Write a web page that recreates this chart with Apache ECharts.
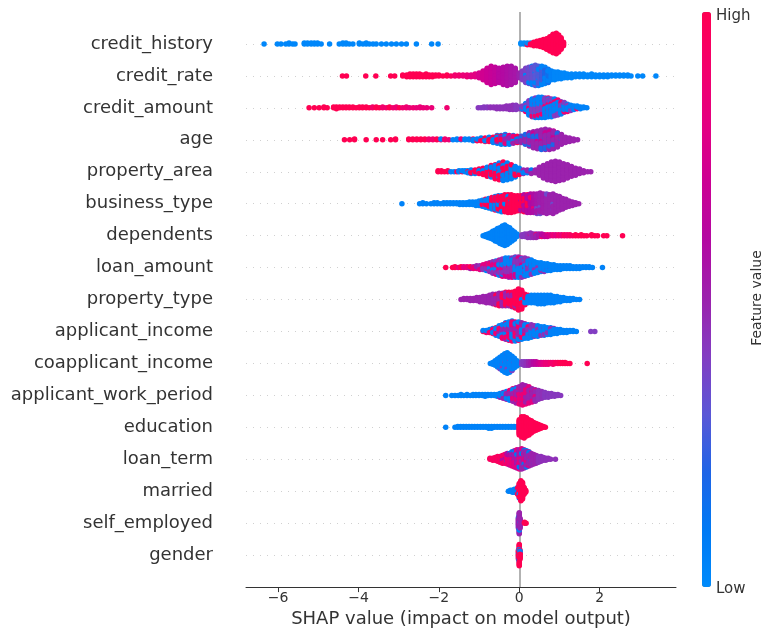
<!DOCTYPE html>
<html>
<head>
<meta charset="utf-8">
<script src="https://cdn.jsdelivr.net/npm/echarts@6/dist/echarts.min.js"></script>
<style>
  html, body { margin: 0; padding: 0; background: #fff; }
  #main { width: 776px; height: 633px; }
</style>
</head>
<body>
<div id="main"></div>
<script>
// features, top to bottom
var features = ['credit_history', 'credit_rate', 'credit_amount', 'age', 'property_area',
  'business_type', 'dependents', 'loan_amount', 'property_type', 'applicant_income',
  'coapplicant_income', 'applicant_work_period', 'education', 'loan_term', 'married',
  'self_employed', 'gender'];
var xTicks = [-6, -4, -2, 0, 2];

// each entry: [shap value, number of points at that value, feature value 0..1 (-1 = missing)]
var credit_history = [[-6.35,1,0.02],[-6.02,1,0.02],[-5.93,1,0.02],[-5.81,1,0.02],[-5.73,2,0.02],[-5.64,1,0.02],[-5.58,1,0.02],
  [-5.35,2,0.02],[-5.27,2,0.02],[-5.18,2,0.02],[-5.1,2,0.02],[-5.02,2,0.02],[-4.93,1,0.02],[-4.72,1,0.02],[-4.48,1,0.02],
  [-4.39,2,0.02],[-4.31,2,0.02],[-4.23,1,0.02],[-4.14,1,0.02],[-3.98,2,0.02],[-3.89,1,0.02],[-3.81,2,0.02],[-3.73,1,0.02],
  [-3.64,1,0.02],[-3.56,1,0.02],[-3.43,1,0.02],[-3.31,1,0.02],[-3.18,1,0.02],[-3.06,1,0.02],[-2.93,1,0.02],[-2.81,1,0.02],
  [-2.56,1,0.02],[-2.18,1,0.02],[-2.02,1,0.02],
  [0.04,2,-1],[0.12,2,-1],[0.2,2,-1],[0.2,1,1],[0.28,1,-1],[0.28,2,1],[0.36,5,1],[0.44,6,1],[0.52,8,1],[0.6,10,1],
  [0.68,13,1],[0.76,17,1],[0.84,22,1],[0.92,24,1],[0.98,20,1],[1.04,14,1],[1.1,5,1]];

var credit_rate = [[-4.4,1,1],[-4.3,1,1],[-3.82,1,1],[-3.57,1,1],[-3.2,1,1],[-3.1,1,1],
  [-2.9,2,1],[-2.8,3,1],[-2.72,4,1],[-2.64,4,1],[-2.56,4,1],[-2.48,4,1],[-2.4,3,1],[-2.32,4,1],[-2.24,3,1],[-2.16,3,1],
  [-2.08,2,1],[-2.0,2,1],[-1.9,1,1],[-1.8,2,1],[-1.7,1,0.95],[-1.6,2,0.9],[-1.5,2,0.9],[-1.4,2,0.85],[-1.3,3,0.85],
  [-1.2,3,0.8],[-1.1,4,0.8],[-1.0,6,0.75],[-0.9,10,0.72],[-0.8,16,0.7],[-0.7,20,0.68],[-0.6,18,0.66],[-0.5,16,0.62],
  [-0.4,19,0.6],[-0.3,21,0.58],[-0.2,20,0.56],[-0.1,16,0.55],[0.0,6,0.5],
  [0.08,10,0.4],[0.16,14,0.38],[0.16,2,0.05],[0.24,15,0.35],[0.24,3,0.05],[0.32,16,0.33],[0.32,4,0.05],[0.4,17,0.3],[0.4,5,0.05],
  [0.48,15,0.28],[0.48,6,0.05],[0.56,13,0.25],[0.56,7,0.05],[0.64,10,0.2],[0.64,8,0.05],[0.72,6,0.15],[0.72,9,0.05],
  [0.8,10,0.05],[0.88,9,0.03],[0.96,8,0.03],[1.04,7,0.03],[1.12,6,0.02],[1.2,5,0.02],[1.3,5,0.02],[1.4,4,0.02],[1.5,4,0.02],
  [1.6,4,0.02],[1.7,3,0.02],[1.8,4,0.02],[1.9,3,0.02],[2.0,3,0.02],[2.1,3,0.02],[2.2,3,0.02],[2.3,2,0.02],[2.4,2,0.02],
  [2.5,2,0.02],[2.6,2,0.02],[2.7,2,0.02],[2.78,1,0.02],[2.95,1,0.02],[3.07,1,0.02],[3.4,1,0.02]];

var credit_amount = [[-5.23,1,1],[-5.1,1,1],[-4.98,1,1],[-4.86,2,1],[-4.78,1,1],[-4.62,2,1],[-4.55,3,1],[-4.47,2,1],
  [-4.39,2,1],[-4.31,2,1],[-4.23,2,1],[-4.14,2,1],[-4.06,1,1],[-3.98,2,1],[-3.9,2,1],[-3.81,2,1],[-3.73,1,1],[-3.65,2,0.92],
  [-3.56,2,1],[-3.48,1,1],[-3.4,2,0.9],[-3.31,1,0.9],[-3.23,2,1],[-3.14,1,0.9],[-3.06,2,0.88],[-2.98,1,1],[-2.9,1,0.88],
  [-2.81,2,0.88],[-2.73,1,0.85],[-2.64,1,0.88],[-2.56,1,0.85],[-2.47,2,0.85],[-2.39,1,0.85],[-2.3,1,0.85],[-2.18,1,0.85],
  [-1.8,1,0.88],
  [-1.02,1,0.42],[-0.95,1,0.42],[-0.88,2,0.42],[-0.8,2,0.42],[-0.72,2,0.45],[-0.64,2,0.45],[-0.56,3,0.45],[-0.48,3,0.45],
  [-0.4,3,0.45],[-0.32,4,0.45],[-0.24,5,0.45],[-0.16,6,0.45],[-0.08,6,0.42],[0.0,3,0.42],
  [0.08,3,0.4],[0.08,2,0.05],[0.16,5,0.05],[0.16,4,0.4],[0.16,1,0.9],[0.24,9,0.05],[0.24,6,0.4],[0.24,2,0.9],
  [0.32,11,0.05],[0.32,7,0.4],[0.32,3,0.9],[0.4,12,0.05],[0.4,8,0.4],[0.4,3,0.9],[0.48,13,0.05],[0.48,8,0.4],[0.48,3,0.9],
  [0.56,13,0.05],[0.56,8,0.4],[0.56,3,0.9],[0.64,13,0.05],[0.64,7,0.4],[0.64,3,0.9],[0.72,12,0.05],[0.72,7,0.4],[0.72,3,0.9],
  [0.8,12,0.05],[0.8,6,0.4],[0.8,3,0.9],[0.88,11,0.05],[0.88,6,0.4],[0.88,3,0.9],[0.96,10,0.05],[0.96,5,0.4],[0.96,3,0.9],
  [1.04,9,0.05],[1.04,4,0.4],[1.04,2,0.9],[1.12,7,0.05],[1.12,3,0.4],[1.12,2,0.9],[1.2,6,0.05],[1.2,2,0.4],[1.2,1,0.9],
  [1.28,5,0.05],[1.28,2,0.4],[1.36,4,0.05],[1.36,1,0.4],[1.44,3,0.05],[1.44,1,0.9],[1.52,3,0.05],[1.6,2,0.05],[1.68,1,0.05]];

var age = [[-4.35,1,1],[-4.22,1,1],[-4.1,2,1],[-3.81,1,1],[-3.56,1,1],[-3.4,1,1],[-3.2,1,1],[-3.08,2,1],
  [-2.75,2,1],[-2.65,2,1],[-2.55,2,1],[-2.45,2,1],[-2.35,2,1],[-2.25,2,0.9],[-2.15,2,0.9],[-2.05,2,1],[-1.95,1,0.85],
  [-1.95,1,0.05],[-1.85,2,0.9],[-1.75,1,0.85],[-1.65,1,0.05],[-1.55,2,0.05],[-1.45,1,0.05],[-1.45,1,0.85],[-1.35,2,0.05],
  [-1.25,2,0.05],[-1.15,2,0.05],[-1.15,1,1],[-1.05,2,0.05],[-1.05,1,1],
  [-0.95,2,0.05],[-0.95,2,1],[-0.85,3,0.05],[-0.85,2,1],[-0.75,3,0.05],[-0.75,3,1],[-0.65,4,0.05],[-0.65,3,1],
  [-0.55,4,0.05],[-0.55,4,1],[-0.55,2,0.5],[-0.45,4,0.05],[-0.45,4,1],[-0.45,3,0.5],[-0.35,4,0.05],[-0.35,4,0.85],
  [-0.35,4,0.5],[-0.25,4,0.05],[-0.25,3,0.85],[-0.25,4,0.5],[-0.15,3,0.05],[-0.15,3,0.85],[-0.15,4,0.5],[-0.05,3,0.1],
  [-0.05,2,1],[-0.05,3,0.5],
  [0.05,4,0.2],[0.05,4,0.5],[0.15,5,0.2],[0.15,7,0.5],[0.25,6,0.2],[0.25,10,0.5],[0.35,5,0.2],[0.35,12,0.5],[0.35,2,0.7],
  [0.45,5,0.2],[0.45,13,0.5],[0.45,3,0.7],[0.55,5,0.2],[0.55,15,0.5],[0.55,3,0.7],[0.65,5,0.2],[0.65,16,0.5],[0.65,3,0.7],
  [0.75,4,0.2],[0.75,16,0.5],[0.75,3,0.7],[0.85,4,0.2],[0.85,14,0.5],[0.85,3,0.7],[0.95,3,0.2],[0.95,12,0.5],[0.95,2,0.7],
  [1.05,2,0.2],[1.05,10,0.5],[1.15,7,0.5],[1.25,5,0.5],[1.35,3,0.5],[1.45,1,0.5]];

var property_area = [[-2.02,2,1],[-1.94,2,1],[-1.86,1,1],[-1.78,2,1],[-1.7,1,0.05],[-1.62,1,0.05],[-1.55,1,1],[-1.5,2,0.05],
  [-1.42,1,1],[-1.42,1,0.05],[-1.35,2,0.05],[-1.28,1,1],[-1.28,2,0.05],
  [-1.2,2,0.05],[-1.2,3,1],[-1.1,2,0.05],[-1.1,3,1],[-1.0,2,0.05],[-1.0,4,1],[-0.9,3,0.05],[-0.9,5,1],[-0.8,4,0.05],
  [-0.8,7,1],[-0.7,6,0.05],[-0.7,8,1],[-0.6,8,0.05],[-0.6,9,1],[-0.5,10,0.05],[-0.5,10,1],[-0.4,12,0.05],[-0.4,10,1],
  [-0.3,12,0.05],[-0.3,8,1],[-0.2,11,0.05],[-0.2,6,1],[-0.1,9,0.05],[-0.1,4,1],[0.0,6,0.05],[0.0,2,1],
  [0.1,3,0.05],[0.1,2,0.5],[0.2,2,0.05],[0.2,2,0.5],[0.3,2,0.1],[0.3,3,0.5],
  [0.4,4,0.5],[0.5,10,0.5],[0.6,15,0.5],[0.7,19,0.5],[0.8,22,0.5],[0.9,24,0.5],[1.0,22,0.5],[1.1,19,0.5],[1.2,16,0.5],
  [1.3,12,0.5],[1.4,9,0.5],[1.5,6,0.5],[1.6,3,0.5],[1.7,1,0.5],[1.78,1,0.5]];

var business_type = [[-2.92,1,0.05],[-2.48,1,0.05],[-2.4,2,0.05],[-2.31,1,0.05],[-2.2,1,0.05],[-2.12,2,0.05],[-2.04,2,0.05],
  [-1.96,1,0.05],[-1.88,2,0.05],[-1.8,2,0.05],[-1.72,2,0.05],[-1.64,2,0.05],[-1.56,2,0.05],[-1.48,3,0.05],[-1.4,3,0.05],
  [-1.32,3,0.05],[-1.24,4,0.05],[-1.16,4,0.05],[-1.08,5,0.05],[-1.0,6,0.05],[-0.92,6,0.05],[-0.92,2,1],[-0.84,7,0.05],
  [-0.84,3,1],[-0.76,7,0.05],[-0.76,5,1],[-0.68,7,0.05],[-0.68,7,1],[-0.6,7,0.05],[-0.6,9,1],[-0.52,6,0.05],[-0.52,12,1],
  [-0.44,5,0.05],[-0.44,14,1],[-0.36,4,0.05],[-0.36,16,1],[-0.28,3,0.05],[-0.28,18,1],[-0.2,2,0.1],[-0.2,19,1],
  [-0.12,19,1],[-0.04,18,1],[0.04,14,1],[0.04,4,0.6],
  [0.12,10,1],[0.12,10,0.6],[0.2,7,1],[0.2,14,0.6],[0.28,5,0.9],[0.28,17,0.6],[0.36,3,0.85],[0.36,19,0.58],[0.44,20,0.55],
  [0.44,3,0.35],[0.52,21,0.52],[0.52,3,0.35],[0.6,22,0.52],[0.68,20,0.5],[0.68,3,0.35],[0.76,21,0.5],[0.84,20,0.5],
  [0.84,3,0.35],[0.92,19,0.5],[1.0,16,0.5],[1.08,13,0.5],[1.16,10,0.5],[1.24,7,0.5],[1.32,5,0.5],[1.4,3,0.5],[1.48,1,0.5]];

var dependents = [[-0.9,1,0.05],[-0.84,3,0.05],[-0.78,5,0.05],[-0.72,7,0.05],[-0.66,10,0.05],[-0.6,13,0.05],[-0.54,16,0.05],
  [-0.48,19,0.05],[-0.42,22,0.05],[-0.36,24,0.05],[-0.3,21,0.05],[-0.24,18,0.05],[-0.18,13,0.05],[-0.12,9,0.05],[-0.06,4,0.05],
  [0.07,3,0.42],[0.14,4,0.42],[0.21,5,0.45],[0.28,5,0.45],[0.28,1,0.8],[0.35,5,0.48],[0.42,4,0.5],[0.42,1,0.9],[0.49,4,0.55],
  [0.56,3,0.6],[0.56,1,0.9],[0.63,3,0.65],[0.7,2,0.7],[0.7,1,0.9],[0.77,2,0.75],[0.84,2,0.85],[0.91,2,0.8],[0.98,2,0.9],
  [1.05,2,0.85],[1.12,2,0.95],[1.19,2,0.9],[1.26,2,0.95],[1.33,1,0.95],[1.4,2,1],[1.47,1,1],[1.54,2,1],[1.61,1,1],
  [1.68,1,1],[1.8,2,1],[1.88,1,1],[1.95,1,1],[2.1,1,1],[2.18,1,1],[2.57,1,1]];

var loan_amount = [[-1.83,1,1],[-1.66,1,1],[-1.6,2,1],[-1.52,1,0.85],[-1.45,2,1],[-1.38,2,0.8],[-1.3,2,0.85],[-1.22,2,1],
  [-1.22,1,0.55],[-1.14,2,0.85],[-1.14,1,0.5],[-1.06,2,0.85],[-1.06,2,0.5],[-0.98,3,0.8],[-0.98,2,0.45],[-0.9,3,0.8],
  [-0.9,3,0.45],[-0.82,4,0.8],[-0.82,3,0.45],[-0.82,1,0.05],[-0.74,4,0.85],[-0.74,4,0.45],[-0.74,2,0.05],[-0.66,5,0.8],
  [-0.66,5,0.45],[-0.66,3,0.05],[-0.58,5,0.8],[-0.58,6,0.45],[-0.58,4,0.05],[-0.5,5,0.8],[-0.5,7,0.45],[-0.5,5,0.05],
  [-0.42,5,0.8],[-0.42,8,0.45],[-0.42,6,0.05],[-0.34,5,0.75],[-0.34,8,0.45],[-0.34,7,0.05],[-0.26,5,0.75],[-0.26,9,0.45],
  [-0.26,7,0.05],[-0.18,4,0.75],[-0.18,9,0.45],[-0.18,8,0.05],[-0.1,4,0.75],[-0.1,9,0.45],[-0.1,9,0.05],[-0.02,3,0.75],
  [-0.02,9,0.45],[-0.02,10,0.05],[0.06,3,0.75],[0.06,8,0.45],[0.06,10,0.05],[0.14,2,0.75],[0.14,7,0.45],[0.14,11,0.05],
  [0.22,2,0.75],[0.22,5,0.45],[0.22,11,0.05],[0.3,1,0.75],[0.3,4,0.45],[0.3,11,0.05],[0.38,3,0.45],[0.38,10,0.05],
  [0.46,2,0.45],[0.46,9,0.05],[0.54,2,0.45],[0.54,8,0.05],[0.62,1,0.45],[0.62,8,0.05],[0.7,1,0.45],[0.7,7,0.05],
  [0.78,1,0.6],[0.78,6,0.05],[0.86,6,0.05],[0.94,5,0.05],[1.02,5,0.05],[1.1,4,0.05],[1.18,4,0.05],[1.26,4,0.05],
  [1.34,3,0.05],[1.42,3,0.05],[1.5,3,0.05],[1.58,2,0.05],[1.66,2,0.05],[1.74,2,0.05],[1.82,1,0.05],[2.07,1,0.05]];

var property_type = [[-1.45,1,0.5],[-1.38,2,0.5],[-1.3,2,0.5],[-1.22,3,0.5],[-1.14,3,0.5],[-1.06,4,0.5],[-0.98,5,0.5],
  [-0.9,6,0.5],[-0.82,7,0.5],[-0.74,8,0.5],[-0.66,9,0.5],[-0.66,1,1],[-0.58,9,0.5],[-0.58,2,1],[-0.5,9,0.5],[-0.5,4,1],
  [-0.42,8,0.5],[-0.42,5,1],[-0.34,7,0.5],[-0.34,7,1],[-0.26,5,0.5],[-0.26,9,1],[-0.18,4,0.5],[-0.18,11,1],[-0.1,2,0.5],
  [-0.1,15,1],[-0.02,20,1],[-0.02,1,0.05],[0.06,16,1],[0.06,3,0.05],[0.14,6,1],[0.14,5,0.05],
  [0.22,1,1],[0.22,7,0.05],[0.3,8,0.05],[0.38,8,0.05],[0.46,9,0.05],[0.54,9,0.05],[0.62,9,0.05],[0.7,8,0.05],
  [0.78,8,0.05],[0.86,7,0.05],[0.94,6,0.05],[1.02,5,0.05],[1.1,4,0.05],[1.18,3,0.05],[1.26,3,0.05],[1.34,2,0.05],
  [1.42,1,0.05],[1.5,1,0.05]];

var applicant_income = [[-0.9,1,1],[-0.9,1,0.05],[-0.82,2,0.05],[-0.82,1,0.9],[-0.74,2,0.05],[-0.74,2,0.9],[-0.66,3,0.05],
  [-0.66,2,0.9],[-0.66,1,0.5],[-0.58,4,0.05],[-0.58,3,0.9],[-0.58,2,0.5],[-0.5,5,0.05],[-0.5,4,0.9],[-0.5,3,0.5],
  [-0.42,6,0.05],[-0.42,5,0.9],[-0.42,4,0.5],[-0.34,7,0.05],[-0.34,6,0.9],[-0.34,5,0.5],[-0.26,8,0.05],[-0.26,7,0.9],
  [-0.26,5,0.5],[-0.18,8,0.05],[-0.18,8,0.9],[-0.18,6,0.5],[-0.1,8,0.05],[-0.1,7,0.9],[-0.1,6,0.5],[-0.02,8,0.05],
  [-0.02,6,0.9],[-0.02,6,0.5],[0.06,8,0.05],[0.06,5,0.9],[0.06,5,0.5],[0.14,8,0.05],[0.14,3,0.9],[0.14,5,0.5],
  [0.22,8,0.05],[0.22,2,0.9],[0.22,5,0.45],[0.3,8,0.05],[0.3,1,0.9],[0.3,5,0.45],[0.38,8,0.05],[0.38,4,0.45],
  [0.46,8,0.05],[0.46,4,0.45],[0.54,7,0.05],[0.54,3,0.45],[0.62,7,0.05],[0.62,3,0.45],[0.7,6,0.05],[0.7,2,0.45],
  [0.78,6,0.05],[0.78,2,0.45],[0.86,5,0.05],[0.86,1,0.45],[0.94,5,0.05],[1.02,4,0.05],[1.1,3,0.05],[1.18,3,0.05],
  [1.26,2,0.05],[1.34,2,0.05],[1.42,1,0.05],[1.78,1,0.4],[1.88,1,0.4]];

var coapplicant_income = [[-0.72,1,0.05],[-0.66,3,0.05],[-0.6,6,0.05],[-0.54,10,0.05],[-0.48,13,0.05],[-0.48,1,0.4],
  [-0.42,16,0.05],[-0.42,2,0.4],[-0.36,20,0.05],[-0.36,2,0.4],[-0.3,22,0.05],[-0.3,2,0.4],[-0.24,19,0.05],[-0.24,2,0.4],
  [-0.18,16,0.05],[-0.18,1,0.4],[-0.12,11,0.05],[-0.12,1,0.4],[-0.06,7,0.05],[-0.01,3,0.05],
  [0.06,4,0.4],[0.12,5,0.42],[0.18,5,0.45],[0.24,5,0.5],[0.3,4,0.55],[0.36,4,0.6],[0.42,4,0.65],[0.48,3,0.7],[0.54,3,0.75],
  [0.6,3,0.8],[0.66,3,0.85],[0.72,3,0.85],[0.78,2,0.9],[0.84,3,0.9],[0.9,2,0.95],[0.96,2,0.95],[1.02,2,1],[1.08,2,1],
  [1.14,2,1],[1.2,1,1],[1.26,1,1],[1.69,1,1]];

var applicant_work_period = [[-1.83,1,0.05],[-1.68,1,0.05],[-1.6,1,0.05],[-1.52,1,0.05],[-1.45,2,0.05],[-1.38,1,0.05],
  [-1.3,2,0.05],[-1.22,1,0.05],[-1.15,2,0.05],[-1.08,2,0.05],[-1.0,2,0.05],[-0.92,2,0.05],[-0.85,3,0.05],[-0.78,2,0.05],
  [-0.7,2,0.05],[-0.62,2,0.05],[-0.55,3,0.05],[-0.48,4,0.05],[-0.48,1,0.5],[-0.4,4,0.05],[-0.4,3,0.5],[-0.32,4,0.05],
  [-0.32,5,0.5],[-0.24,4,0.05],[-0.24,5,0.5],[-0.24,2,0.85],[-0.16,3,0.05],[-0.16,7,0.5],[-0.16,4,0.85],[-0.08,2,0.05],
  [-0.08,8,0.52],[-0.08,7,0.85],[0.0,1,0.05],[0.0,9,0.52],[0.0,9,0.85],[0.08,10,0.52],[0.08,12,0.85],[0.16,10,0.52],
  [0.16,10,0.85],[0.24,10,0.5],[0.24,8,0.8],[0.32,10,0.5],[0.32,5,0.8],[0.4,10,0.48],[0.4,3,0.8],[0.48,10,0.45],
  [0.56,8,0.45],[0.64,6,0.42],[0.72,5,0.42],[0.8,4,0.42],[0.88,3,0.42],[0.96,2,0.42],[1.03,1,0.42]];

var education = [[-1.83,1,0.05],[-1.6,1,0.05],[-1.53,2,0.05],[-1.46,2,0.05],[-1.39,2,0.05],[-1.32,2,0.05],[-1.25,2,0.05],
  [-1.18,2,0.05],[-1.11,2,0.05],[-1.04,2,0.05],[-0.97,2,0.05],[-0.9,2,0.05],[-0.83,2,0.05],[-0.76,3,0.05],[-0.69,3,0.05],
  [-0.62,2,0.05],[-0.55,2,0.05],[-0.48,2,0.05],[-0.41,2,0.05],[-0.34,2,0.05],[-0.27,2,0.05],[-0.2,2,0.05],[-0.13,2,0.05],
  [-0.06,2,0.05],
  [0.0,17,1],[0.06,22,1],[0.12,23,1],[0.18,20,1],[0.24,17,1],[0.3,14,1],[0.36,10,1],[0.42,8,1],[0.48,6,1],[0.54,4,1],
  [0.6,2,1],[0.65,1,1]];

var loan_term = [[-0.73,2,0.95],[-0.66,3,0.95],[-0.6,4,0.95],[-0.54,5,0.95],[-0.54,1,0.6],[-0.48,6,0.95],[-0.48,1,0.6],
  [-0.42,7,0.95],[-0.42,2,0.6],[-0.36,8,0.9],[-0.36,2,0.6],[-0.3,8,0.9],[-0.3,3,0.6],[-0.3,1,0.1],[-0.24,8,0.85],
  [-0.24,4,0.6],[-0.24,1,0.1],[-0.18,9,0.85],[-0.18,5,0.55],[-0.18,2,0.1],[-0.12,9,0.8],[-0.12,7,0.55],[-0.12,2,0.1],
  [-0.06,9,0.8],[-0.06,8,0.55],[-0.06,3,0.1],[0.0,8,0.8],[0.0,10,0.55],[0.0,3,0.1],[0.06,7,0.8],[0.06,12,0.5],[0.06,3,0.1],
  [0.12,5,0.8],[0.12,12,0.5],[0.12,3,0.1],[0.18,3,0.8],[0.18,13,0.5],[0.18,2,0.1],[0.24,2,0.8],[0.24,12,0.5],[0.24,2,0.1],
  [0.3,1,0.8],[0.3,11,0.5],[0.3,1,0.1],[0.36,10,0.5],[0.36,1,0.1],[0.42,9,0.5],[0.48,7,0.45],[0.54,6,0.45],[0.6,4,0.45],
  [0.66,3,0.45],[0.72,2,0.45],[0.78,1,0.45],[0.9,1,0.45]];

var married = [[-0.27,1,0.05],[-0.22,2,0.05],[-0.17,3,0.05],[-0.12,4,0.05],[-0.08,3,0.05],[-0.04,6,1],[-0.04,2,0.05],
  [0.0,14,1],[0.0,2,0.05],[0.04,22,1],[0.08,18,1],[0.12,8,1],[0.16,3,1]];

var self_employed = [[-0.02,10,0.5],[-0.02,2,0.05],[0.0,20,0.5],[0.0,3,0.05],[0.02,10,0.5],[0.02,1,0.05],[0.13,2,1],[0.17,1,1]];

var gender = [[-0.02,8,1],[-0.02,2,0.05],[0.0,18,1],[0.0,5,0.05],[0.02,8,1],[0.02,2,0.05]];

var rows = [credit_history, credit_rate, credit_amount, age, property_area, business_type, dependents,
  loan_amount, property_type, applicant_income, coapplicant_income, applicant_work_period, education,
  loan_term, married, self_employed, gender];

// shap-like colormap, low -> high
var cmap = ['#008bfb', '#0079f4', '#1f64e6', '#5a57d6', '#823dc2', '#9b22ad',
  '#b309a2', '#cb0094', '#e30082', '#f3006c', '#ff0052'];

// beeswarm: stack points that share a value in alternating layers,
// then scale so the tallest column fills 0.9 * 0.4 of a row
function swarm(entries, row) {
  var cols = new Map();
  entries.forEach(function (e) {
    if (!cols.has(e[0])) cols.set(e[0], []);
    for (var k = 0; k < e[1]; k++) cols.get(e[0]).push({ f: (k + 0.5) / e[1], c: e[2] });
  });
  var raw = [], top = 0, j = 0;
  cols.forEach(function (items, x) {
    j++;
    items.sort(function (a, b) { return a.f - b.f; });
    var offs = items.map(function (_, layer) {
      return Math.ceil(layer / 2) * ((layer % 2) * 2 - 1);
    });
    offs.sort(function (a, b) { return a - b; });
    // spread the colours over the column instead of banding them
    var slots = offs.map(function (o, i) {
      return { o: o, key: ((i + 1) * 0.618034 + j * 0.381966) % 1 };
    });
    slots.sort(function (a, b) { return a.key - b.key; });
    items.forEach(function (it, k) {
      raw.push([x, slots[k].o, it.c]);
      if (slots[k].o > top) top = slots[k].o;
    });
  });
  var s = 0.36 / (top + 1);
  return raw.map(function (p) { return [p[0], row + p[1] * s, p[2]]; });
}

var points = [];
rows.forEach(function (entries, i) {
  points = points.concat(swarm(entries, features.length - 1 - i));
});

var font = 'DejaVu Sans';
var myChart = echarts.init(document.getElementById('main'));
var option = {
  animation: false,
  backgroundColor: '#fff',
  grid: { left: 246, right: 100, top: 12, bottom: 45 },
  xAxis: {
    type: 'value', min: -6.8, max: 3.9,
    axisLine: { show: true, onZero: false, lineStyle: { color: '#333', width: 1 } },
    axisTick: { show: true, length: 5, customValues: xTicks, lineStyle: { color: '#333' } },
    axisLabel: {
      customValues: xTicks, color: '#333', fontSize: 14, fontFamily: font, margin: 4,
      formatter: function (v) { return v < 0 ? '\u2212' + Math.abs(v) : String(v); }
    },
    splitLine: { show: false },
    name: 'SHAP value (impact on model output)', nameLocation: 'middle', nameGap: 20,
    nameTextStyle: { fontSize: 18, color: '#333', fontFamily: font }
  },
  yAxis: {
    type: 'value', min: -1, max: 17, interval: 1,
    axisLine: { show: false }, axisTick: { show: false }, splitLine: { show: false },
    axisLabel: {
      color: '#333', fontSize: 18, fontFamily: font, margin: 33,
      formatter: function (v) { return features[features.length - 1 - v] || ''; }
    }
  },
  visualMap: {
    type: 'continuous', min: 0, max: 1, dimension: 2, seriesIndex: 0,
    inRange: { color: cmap }, outOfRange: { color: '#777777' },
    orient: 'vertical', left: 702, top: 12, itemWidth: 9, itemHeight: 575,
    calculable: false, hoverLink: false, padding: 0, text: null, showLabel: false
  },
  graphic: [
    { type: 'text', left: 716, top: 9, style: { text: 'High', fontSize: 15, fill: '#333', fontFamily: font } },
    { type: 'text', left: 716, top: 582, style: { text: 'Low', fontSize: 15, fill: '#333', fontFamily: font } },
    { type: 'text', x: 757, y: 298, rotation: Math.PI / 2,
      style: { text: 'Feature value', fontSize: 14, fill: '#333', fontFamily: font, align: 'center', verticalAlign: 'middle' } }
  ],
  series: [
    {
      type: 'scatter', data: points, symbolSize: 5.5, z: 10, progressive: 0,
      itemStyle: { opacity: 1 }, silent: true
    },
    {
      type: 'scatter', data: [], z: 1, silent: true,
      markLine: {
        silent: true, symbol: ['none', 'none'], label: { show: false }, animation: false,
        data: features.map(function (f, i) {
          return { yAxis: i, lineStyle: { color: '#d0d0d0', width: 1, type: [1, 6] } };
        }).concat([{ xAxis: 0, lineStyle: { color: '#999', width: 1.5, type: 'solid' } }])
      }
    }
  ]
};
myChart.setOption(option);
</script>
</body>
</html>
